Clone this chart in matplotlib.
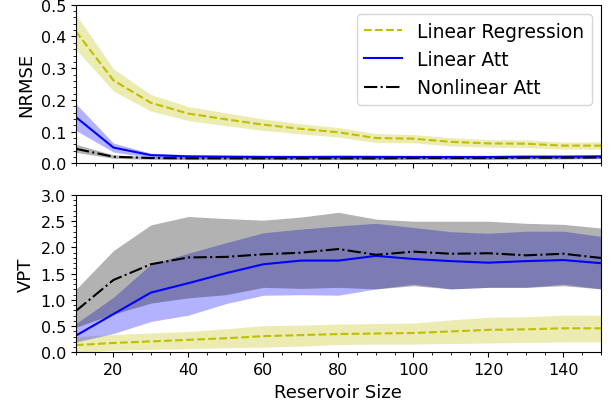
import numpy as np
from matplotlib import pyplot as plt
from matplotlib.ticker import MultipleLocator, FormatStrFormatter

# reservoir sizes
sizes = [10, 20, 30, 40, 50, 60, 70, 80, 90, 100, 110, 120, 130, 140, 150]

# NRMSE (mean, lower, upper)
nrmse_lr = [0.416, 0.262, 0.191, 0.157, 0.139, 0.122, 0.109, 0.098, 0.080, 0.078, 0.068, 0.063, 0.062, 0.056, 0.056]
nrmse_lr_lo = [0.36, 0.228, 0.165, 0.135, 0.119, 0.104, 0.093, 0.083, 0.066, 0.065, 0.055, 0.051, 0.050, 0.045, 0.045]
nrmse_lr_hi = [0.47, 0.298, 0.217, 0.179, 0.159, 0.140, 0.125, 0.113, 0.094, 0.091, 0.081, 0.075, 0.074, 0.067, 0.068]

nrmse_la = [0.146, 0.050, 0.026, 0.022, 0.021, 0.020, 0.020, 0.020, 0.020, 0.020, 0.020, 0.020, 0.021, 0.021, 0.022]
nrmse_la_lo = [0.104, 0.036, 0.018, 0.015, 0.015, 0.014, 0.014, 0.014, 0.014, 0.014, 0.014, 0.014, 0.015, 0.015, 0.016]
nrmse_la_hi = [0.188, 0.064, 0.032, 0.028, 0.027, 0.027, 0.026, 0.028, 0.027, 0.026, 0.026, 0.026, 0.027, 0.027, 0.028]

nrmse_na = [0.046, 0.021, 0.017, 0.016, 0.016, 0.016, 0.016, 0.016, 0.016, 0.017, 0.017, 0.017, 0.018, 0.018, 0.019]
nrmse_na_lo = [0.035, 0.016, 0.013, 0.012, 0.012, 0.012, 0.012, 0.012, 0.012, 0.013, 0.013, 0.013, 0.014, 0.014, 0.015]
nrmse_na_hi = [0.060, 0.027, 0.021, 0.020, 0.020, 0.020, 0.020, 0.020, 0.020, 0.021, 0.021, 0.021, 0.022, 0.022, 0.023]

# VPT (mean, lower, upper)
vpt_lr = [0.14, 0.18, 0.21, 0.24, 0.27, 0.31, 0.33, 0.35, 0.36, 0.37, 0.40, 0.43, 0.44, 0.46, 0.46]
vpt_lr_lo = [0.0, 0.04, 0.06, 0.07, 0.09, 0.10, 0.12, 0.15, 0.16, 0.16, 0.17, 0.18, 0.19, 0.20, 0.20]
vpt_lr_hi = [0.30, 0.34, 0.37, 0.40, 0.45, 0.51, 0.52, 0.54, 0.55, 0.56, 0.62, 0.67, 0.68, 0.71, 0.71]

vpt_la = [0.32, 0.73, 1.14, 1.32, 1.51, 1.68, 1.75, 1.75, 1.84, 1.78, 1.74, 1.71, 1.74, 1.76, 1.70]
vpt_la_lo = [0.20, 0.36, 0.59, 0.71, 0.93, 1.09, 1.10, 1.09, 1.21, 1.30, 1.21, 1.24, 1.24, 1.30, 1.21]
vpt_la_hi = [0.55, 1.05, 1.68, 1.89, 2.09, 2.28, 2.35, 2.41, 2.46, 2.38, 2.30, 2.27, 2.31, 2.31, 2.21]

vpt_na = [0.79, 1.38, 1.68, 1.81, 1.82, 1.87, 1.90, 1.97, 1.86, 1.92, 1.88, 1.89, 1.85, 1.88, 1.80]
vpt_na_lo = [0.48, 0.73, 0.94, 1.04, 1.10, 1.24, 1.22, 1.24, 1.21, 1.27, 1.21, 1.24, 1.24, 1.27, 1.21]
vpt_na_hi = [1.20, 1.94, 2.43, 2.59, 2.55, 2.52, 2.58, 2.67, 2.54, 2.50, 2.50, 2.50, 2.46, 2.44, 2.37]

fig = plt.figure(figsize=(6.12, 4.10), dpi=100)
ax1 = fig.add_axes([0.124, 0.599, 0.858, 0.387])
ax2 = fig.add_axes([0.124, 0.138, 0.858, 0.384], sharex=ax1)

# top: NRMSE
ax1.fill_between(sizes, nrmse_lr_lo, nrmse_lr_hi, color='y', alpha=0.3, lw=0)
ax1.fill_between(sizes, nrmse_la_lo, nrmse_la_hi, color='b', alpha=0.3, lw=0)
ax1.fill_between(sizes, nrmse_na_lo, nrmse_na_hi, color='k', alpha=0.3, lw=0)
ax1.plot(sizes, nrmse_lr, 'y--', lw=1.5, label='Linear Regression')
ax1.plot(sizes, nrmse_la, 'b-', lw=1.5, label='Linear Att')
ax1.plot(sizes, nrmse_na, 'k-.', lw=1.5, label='Nonlinear Att')
ax1.set_ylabel('NRMSE', fontsize=13)
ax1.set_ylim(0, 0.5)
ax1.yaxis.set_major_locator(MultipleLocator(0.1))
ax1.yaxis.set_major_formatter(FormatStrFormatter('%.1f'))
ax1.legend(fontsize=13.5, loc='upper right')
plt.setp(ax1.get_xticklabels(), visible=False)

# bottom: VPT
ax2.fill_between(sizes, vpt_lr_lo, vpt_lr_hi, color='y', alpha=0.3, lw=0)
ax2.fill_between(sizes, vpt_la_lo, vpt_la_hi, color='b', alpha=0.3, lw=0)
ax2.fill_between(sizes, vpt_na_lo, vpt_na_hi, color='k', alpha=0.3, lw=0)
ax2.plot(sizes, vpt_lr, 'y--', lw=1.5)
ax2.plot(sizes, vpt_la, 'b-', lw=1.5)
ax2.plot(sizes, vpt_na, 'k-.', lw=1.5)
ax2.set_ylabel('VPT', fontsize=13)
ax2.set_xlabel('Reservoir Size', fontsize=13)
ax2.set_ylim(0, 3.0)
ax2.set_xlim(10, 150)
ax2.yaxis.set_major_locator(MultipleLocator(0.5))
ax2.yaxis.set_major_formatter(FormatStrFormatter('%.1f'))

for ax in (ax1, ax2):
    ax.minorticks_on()
    ax.tick_params(labelsize=11.5)

fig.savefig('out.png', dpi=100)
